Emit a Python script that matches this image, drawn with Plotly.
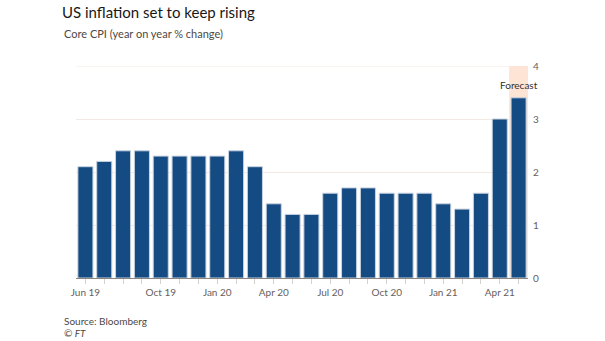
import plotly.graph_objects as go

months = ["Jun 19", "Jul 19", "Aug 19", "Sep 19", "Oct 19", "Nov 19", "Dec 19",
          "Jan 20", "Feb 20", "Mar 20", "Apr 20", "May 20", "Jun 20", "Jul 20",
          "Aug 20", "Sep 20", "Oct 20", "Nov 20", "Dec 20", "Jan 21", "Feb 21",
          "Mar 21", "Apr 21", "May 21"]
core_cpi = [2.1, 2.2, 2.4, 2.4, 2.3, 2.3, 2.3, 2.3, 2.4, 2.1, 1.4, 1.2, 1.2, 1.6,
            1.7, 1.7, 1.6, 1.6, 1.6, 1.4, 1.3, 1.6, 3.0, 3.4]
tick_labels = ["Jun 19", "Oct 19", "Jan 20", "Apr 20", "Jul 20", "Oct 20", "Jan 21", "Apr 21"]
forecast_month = "May 21"

FONT = "Lato"
fig = go.Figure()
fig.add_trace(go.Bar(
    x=months, y=core_cpi,
    marker=dict(color="#144b83", line=dict(color="#c9d3e0", width=1)),
    width=0.8,
))

idx = months.index(forecast_month)
fig.add_shape(type="rect", xref="x", yref="y", x0=idx - 0.5, x1=idx + 0.5, y0=0, y1=4,
              fillcolor="#fde4d4", line=dict(width=0), layer="below")
fig.add_shape(type="line", xref="paper", yref="y", x0=0, x1=1, y0=4, y1=4,
              line=dict(color="#f3e9e2", width=1), layer="below")
fig.add_annotation(x=idx, y=3.65, xref="x", yref="y", text="Forecast", showarrow=False,
                   font=dict(family=FONT, size=10, color="#33302e"), xanchor="center")

fig.update_layout(
    width=605, height=341,
    margin=dict(l=76, r=77, t=66, b=63),
    paper_bgcolor="white", plot_bgcolor="white",
    showlegend=False, bargap=0.2,
    font=dict(family=FONT, color="#66605c"),
    title=dict(text="US inflation set to keep rising", x=62 / 605, xanchor="left",
               y=1 - 13 / 341, yanchor="middle",
               font=dict(family=FONT, size=15, color="#1a1817")),
    annotations=list(fig.layout.annotations) + [
        dict(text="Core CPI (year on year % change)", xref="paper", yref="paper",
             x=-14 / 452, y=(277.5 - 34) / 211.5, xanchor="left", yanchor="middle",
             showarrow=False, font=dict(family=FONT, size=11, color="#4d4845")),
        dict(text="Source: Bloomberg", xref="paper", yref="paper",
             x=-14 / 452, y=(277.5 - 320) / 211.5, xanchor="left", yanchor="middle",
             showarrow=False, font=dict(family=FONT, size=10, color="#4d4845")),
        dict(text="<i>© FT</i>", xref="paper", yref="paper",
             x=-14 / 452, y=(277.5 - 332) / 211.5, xanchor="left", yanchor="middle",
             showarrow=False, font=dict(family=FONT, size=10, color="#4d4845")),
    ],
)

fig.update_xaxes(
    type="category",
    tickmode="array", tickvals=months,
    ticktext=[m if m in tick_labels else "" for m in months],
    ticks="outside", ticklen=5, tickcolor="#d8d2cc", tickwidth=1,
    tickfont=dict(family=FONT, size=10, color="#66605c"),
    showgrid=False, showline=False, range=[-0.5, len(months) - 0.5],
)
fig.update_yaxes(
    side="right", range=[0, 4], tickvals=[0, 1, 2, 3, 4],
    showgrid=True, gridcolor="#f3e9e2", gridwidth=1,
    zeroline=True, zerolinecolor="#8a8581", zerolinewidth=1,
    tickfont=dict(family=FONT, size=10, color="#66605c"),
    ticks="", ticklabelstandoff=4,
)

fig.write_html("out.html")
